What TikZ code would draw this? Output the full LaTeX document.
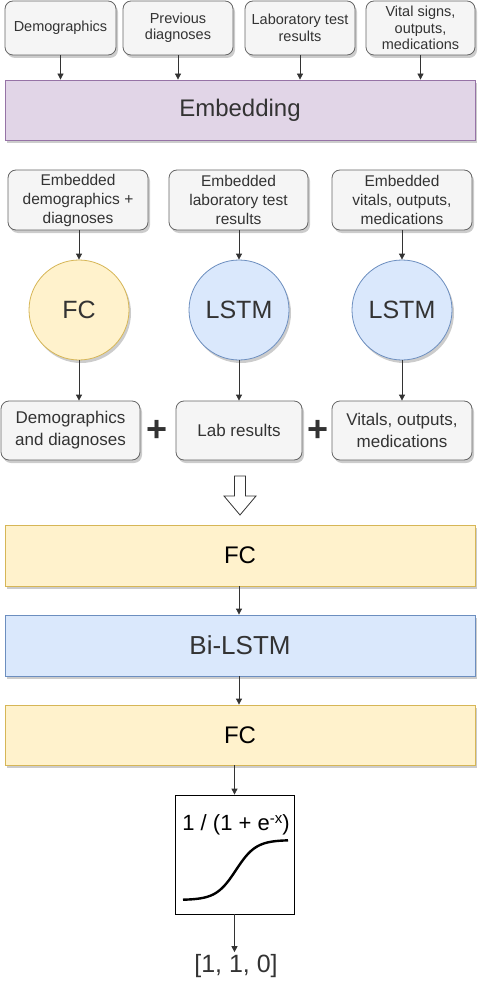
\documentclass[tikz,border=0pt]{standalone}
\usepackage{fontspec}
\setmainfont{Liberation Sans}
\usetikzlibrary{arrows.meta,shadows}
\definecolor{grayfill}{HTML}{F5F5F5}
\definecolor{graydraw}{HTML}{666666}
\definecolor{txt}{HTML}{333333}
\definecolor{purfill}{HTML}{E1D5E7}
\definecolor{purdraw}{HTML}{9673A6}
\definecolor{yelfill}{HTML}{FFF2CC}
\definecolor{yeldraw}{HTML}{D6B656}
\definecolor{blufill}{HTML}{DAE8FC}
\definecolor{bludraw}{HTML}{6C8EBF}
\begin{document}
\begin{tikzpicture}[x=1pt,y=-1pt,
  shad/.style={drop shadow={shadow xshift=2pt,shadow yshift=-3pt,opacity=0.2,fill=black}},
  graybox/.style={draw=graydraw,fill=grayfill,rounded corners=8pt,line width=0.8pt,text=txt,align=center,inner sep=0pt,shad},
  topbox/.style={graybox,minimum height=54pt,font=\fontsize{14.5}{16.5}\selectfont},
  midbox/.style={graybox,minimum height=60pt,font=\fontsize{15.5}{19}\selectfont},
  lowbox/.style={graybox,minimum height=59pt,font=\fontsize{17}{22}\selectfont},
  widebox/.style={line width=0.8pt,inner sep=0pt,minimum width=470pt,shad},
  circ/.style={circle,minimum size=100pt,inner sep=0pt,line width=0.8pt,shad,text=txt,font=\fontsize{25}{30}\selectfont},
  arr/.style={-{Triangle[length=6pt,width=6pt]},color=txt,line width=0.8pt},
  plussign/.style={text=txt,font=\fontsize{36}{36}\selectfont\bfseries,inner sep=0pt}
]
\useasboundingbox (0,0) rectangle (480,987);
% top inputs
\node[topbox,minimum width=111pt] (t1) at (60.5,28) {Demographics};
\node[topbox,minimum width=110pt] (t2) at (178,28) {Previous\\diagnoses};
\node[topbox,minimum width=110pt] (t3) at (300,28) {Laboratory test\\results};
\node[topbox,minimum width=109pt] (t4) at (420.5,28) {Vital signs,\\outputs,\\medications};
% embedding
\node[widebox,draw=purdraw,fill=purfill,minimum height=60pt,text=txt,font=\fontsize{24}{28}\selectfont] (emb) at (240,110) {Embedding};
\foreach \i in {1,2,3,4} \draw[arr] (t\i.south) -- (t\i.south |- emb.north);
% embedded groups
\node[midbox,minimum width=140pt] (e1) at (78,200) {Embedded\\demographics +\\diagnoses};
\node[midbox,minimum width=139pt] (e2) at (238.5,200) {Embedded\\laboratory test\\results};
\node[midbox,minimum width=140pt] (e3) at (402,200) {Embedded\\vitals, outputs,\\medications};
% circles
\node[circ,draw=yeldraw,fill=yelfill] (c1) at (79,310) {FC};
\node[circ,draw=bludraw,fill=blufill] (c2) at (239,310) {LSTM};
\node[circ,draw=bludraw,fill=blufill] (c3) at (402,310) {LSTM};
\foreach \i in {1,2,3} \draw[arr] (e\i.south -| c\i.north) -- (c\i.north);
% outputs of branches
\node[lowbox,minimum width=139pt] (r1) at (70.5,430.5) {Demographics\\and diagnoses};
\node[lowbox,minimum width=126pt] (r2) at (239,430.5) {Lab results};
\node[lowbox,minimum width=140pt] (r3) at (402,430.5) {Vitals, outputs,\\medications};
\foreach \i in {1,2,3} \draw[arr] (c\i.south) -- (c\i.south |- r\i.north);
\node[plussign] (p1) at (157,431) {+};
\node[plussign] (p2) at (318,431) {+};
% block arrow
\draw[fill=white,draw=txt,line width=0.8pt,line join=miter]
  (234.5,476) -- (245.5,476) -- (245.5,496) -- (256,496) -- (240,515) -- (224,496) -- (234.5,496) -- cycle;
% head layers
\node[widebox,draw=yeldraw,fill=yelfill,minimum height=61pt,font=\fontsize{24}{28}\selectfont] (fc1) at (240,555.5) {FC};
\node[widebox,draw=bludraw,fill=blufill,minimum height=61pt,text=txt,font=\fontsize{26}{30}\selectfont] (bi) at (240,645.5) {Bi-LSTM};
\node[widebox,draw=yeldraw,fill=yelfill,minimum height=60pt,font=\fontsize{24}{28}\selectfont] (fc2) at (240,735) {FC};
\draw[arr] ([xshift=-1pt]fc1.south) -- ([xshift=-1pt]bi.north);
\draw[arr] ([xshift=-1pt]bi.south) -- ([xshift=-1pt]fc2.north);
% sigmoid
\node[draw=black,line width=0.8pt,minimum width=119pt,minimum height=119pt,inner sep=0pt] (sig) at (234.5,854.5) {};
\node[inner sep=0pt,font=\fontsize{22}{26}\selectfont] (form) at (236,825) {1 / (1 + e\raisebox{7pt}{\fontsize{15}{15}\selectfont -x})};
\draw[line width=2.4pt] plot[domain=183:288,samples=80] (\x,{900-60/(1+exp(-(\x-236)/10))});
\draw[arr] (fc2.south -| sig.north) -- (sig.north);
\node[inner sep=2pt,text=txt,font=\fontsize{25}{28}\selectfont] (out) at (236,966) {[1, 1, 0]};
\draw[arr] (sig.south) -- (sig.south |- out.north);
\end{tikzpicture}
\end{document}
